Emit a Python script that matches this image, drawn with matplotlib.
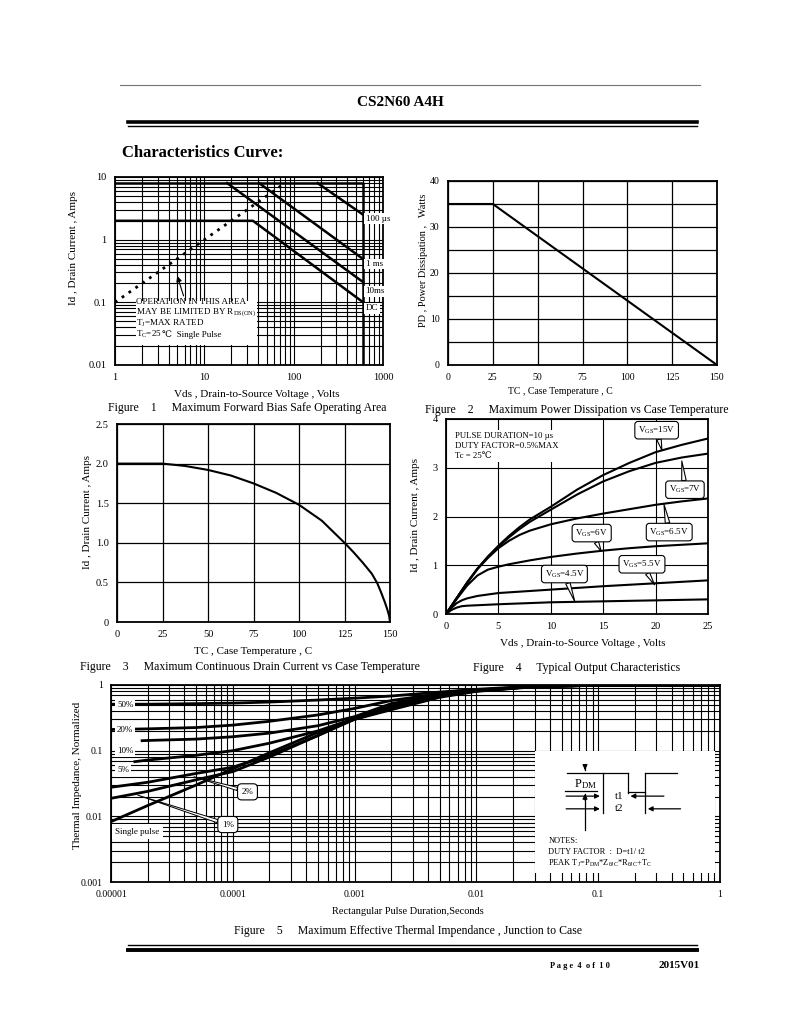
"""
CS2N60 A4H datasheet page 4 - characteristics curves
"""
import matplotlib
matplotlib.use("Agg")
import matplotlib.pyplot as plt
from matplotlib.lines import Line2D
from matplotlib.patches import Rectangle
from matplotlib.ticker import LogLocator, NullFormatter, MultipleLocator

plt.rcParams["font.family"] = ["Liberation Serif", "DejaVu Serif", "DejaVu Sans"]
plt.rcParams["mathtext.fontset"] = "custom"
plt.rcParams["mathtext.rm"] = "Liberation Serif"
plt.rcParams["mathtext.it"] = "Liberation Serif:italic"

W, H = 800, 1035

# ---------------- data ----------------
# Figure 1: safe operating area
soa_dc_v = [1, 35, 600]
soa_dc_i = [2.0, 2.0, 0.1]
soa_10ms_v = [18, 600]
soa_10ms_i = [8, 0.21]
soa_1ms_v = [41, 600]
soa_1ms_i = [8, 0.49]
soa_100us_v = [185, 600]
soa_100us_i = [8, 2.5]
soa_box_v = [1, 600, 600]
soa_box_i = [8, 8, 0.01]
rds_v = [1, 80]
rds_i = [0.1, 8]

# Figure 2: power dissipation
pd_tc = [0, 25, 150]
pd_w = [35, 35, 0]

# Figure 3: continuous drain current
id_tc = [0, 25, 37.5, 50, 62.5, 75, 87.5, 100, 112.5, 125, 130, 135, 140, 143, 145, 147, 148.5, 149.5, 150]
id_a = [2.0, 2.0, 1.97, 1.92, 1.85, 1.75, 1.63, 1.48, 1.28, 1.0, 0.88, 0.75, 0.61, 0.49, 0.38, 0.26, 0.16, 0.08, 0.0]

# Figure 4: output characteristics
vds = [0, 1, 2, 3, 4, 5, 6, 7, 8, 10, 12.5, 15, 17.5, 20, 22.5, 25]
id_15v = [0, 0.32, 0.64, 0.93, 1.18, 1.40, 1.60, 1.78, 1.94, 2.20, 2.55, 2.85, 3.10, 3.32, 3.47, 3.60]
id_7v = [0, 0.32, 0.64, 0.93, 1.17, 1.38, 1.57, 1.74, 1.89, 2.14, 2.45, 2.72, 2.93, 3.10, 3.21, 3.29]
id_65v = [0, 0.32, 0.63, 0.92, 1.15, 1.35, 1.50, 1.62, 1.71, 1.84, 1.96, 2.06, 2.15, 2.24, 2.31, 2.37]
id_6v = [0, 0.30, 0.58, 0.79, 0.91, 0.97, 1.02, 1.06, 1.10, 1.17, 1.24, 1.30, 1.35, 1.39, 1.42, 1.45]
vds_low = [0, 0.5, 1, 1.5, 2, 3, 5, 10, 15, 20, 25]
id_55v = [0, 0.12, 0.22, 0.28, 0.32, 0.37, 0.43, 0.50, 0.57, 0.63, 0.69]
id_45v = [0, 0.08, 0.13, 0.16, 0.17, 0.18, 0.20, 0.24, 0.26, 0.28, 0.30]
vgs_labels = ["15V", "7V", "6.5V", "6V", "5.5V", "4.5V"]
vgs_text_xy = [(20.1, 3.77), (22.8, 2.55), (21.3, 1.68), (13.9, 1.66), (18.7, 1.02), (11.3, 0.82)]
vgs_tip_xy = [(20.6, 3.36), (22.5, 3.14), (20.8, 2.25), (14.8, 1.29), (19.9, 0.60), (12.3, 0.25)]

# Figure 5: transient thermal impedance
zth_t = [1e-5, 2e-5, 5e-5, 1e-4, 2e-4, 5e-4, 1e-3, 2e-3, 5e-3, 1e-2, 3e-2, 1e-1, 3e-1, 1]
zth_50 = [0.51, 0.51, 0.52, 0.53, 0.55, 0.59, 0.63, 0.68, 0.78, 0.86, 0.96, 0.99, 1.0, 0.99]
zth_20 = [0.21, 0.215, 0.225, 0.245, 0.28, 0.35, 0.44, 0.58, 0.74, 0.84, 0.95, 0.99, 1.0, 0.99]
zth_10 = [0.142, 0.143, 0.15, 0.163, 0.185, 0.24, 0.33, 0.52, 0.72, 0.83, 0.95, 0.99, 1.0, 0.99]
zth_05 = [0.068, 0.072, 0.085, 0.10, 0.13, 0.20, 0.31, 0.48, 0.70, 0.82, 0.95, 0.99, 1.0, 0.99]
zth_02 = [0.0277, 0.033, 0.045, 0.056, 0.085, 0.17, 0.31, 0.45, 0.68, 0.81, 0.95, 0.99, 1.0, 0.99]
zth_01 = [0.0188, 0.024, 0.036, 0.048, 0.08, 0.17, 0.30, 0.44, 0.67, 0.81, 0.95, 0.99, 1.0, 0.99]
zth_sp = [0.0083, 0.0146, 0.030, 0.053, 0.093, 0.19, 0.30, 0.42, 0.65, 0.80, 0.94, 0.99, 1.0, 0.99]
zth_start_10 = 1.8e-5
zth_start_05 = 1.57e-5

fig = plt.figure(figsize=(8, 10.35), dpi=100)


def px_axes(left, top, right, bottom, **kw):
    """axes placed by page pixel box"""
    return fig.add_axes([left / W, 1 - bottom / H, (right - left) / W, (bottom - top) / H], **kw)


def ftext(x, y, s, **kw):
    fig.text(x / W, 1 - y / H, s, **kw)


def hline(x0, x1, y, lw, color="black"):
    fig.add_artist(Line2D([x0 / W, x1 / W], [1 - y / H] * 2, lw=lw, color=color,
                          transform=fig.transFigure))


def style_axes(ax, size=7.5):
    ax.tick_params(which="both", length=0, pad=6, labelsize=size)
    for s in ax.spines.values():
        s.set_linewidth(1.3)
    ax.set_axisbelow(True)


# ---------------- page header / footer ----------------
hline(120, 700, 85, 0.8, "0.45")
ftext(400, 102, "CS2N60 A4H", ha="center", va="center", fontsize=11, fontweight="bold")
hline(128, 697, 121.5, 2.6)
hline(128, 697, 126, 1.0)
ftext(122, 153, "Characteristics Curve:", ha="left", va="center", fontsize=12, fontweight="bold")
hline(128, 697, 945, 1.0)
hline(128, 697, 950, 2.8)
ftext(610, 966, "P a g e  4  o f  1 0", ha="right", va="center", fontsize=6, fontweight="bold")
ftext(700, 966, "2015V01", ha="right", va="center", fontsize=8, fontweight="bold")

# ---------------- Figure 1 ----------------
ax1 = px_axes(115, 177, 383, 365)
ax1.set_xscale("log")
ax1.set_yscale("log")
ax1.set_xlim(1, 1000)
ax1.set_ylim(0.01, 10)
ax1.xaxis.set_minor_locator(LogLocator(subs=range(2, 10)))
ax1.yaxis.set_minor_locator(LogLocator(subs=range(2, 10)))
ax1.xaxis.set_minor_formatter(NullFormatter())
ax1.yaxis.set_minor_formatter(NullFormatter())
ax1.set_xticks([1, 10, 100, 1000], ["1", "10", "100", "1000"])
ax1.set_yticks([0.01, 0.1, 1, 10], ["0.01", "0.1", "1", "10"])
ax1.grid(True, which="both", color="black", lw=0.8)
style_axes(ax1)
ax1.add_patch(Rectangle((1.7, 0.021), 37.3, 0.084, fc="white", ec="none", zorder=2))
for v, i in [(soa_dc_v, soa_dc_i), (soa_10ms_v, soa_10ms_i), (soa_1ms_v, soa_1ms_i),
             (soa_100us_v, soa_100us_i), (soa_box_v, soa_box_i)]:
    ax1.plot(v, i, color="black", lw=1.8, zorder=3)
ax1.plot(rds_v, rds_i, color="black", lw=2.0, ls=(0, (1, 2)), zorder=3)
for lab, y in [("100 µs", 2.15), ("1 ms", 0.41), ("10ms", 0.15), ("DC", 0.08)]:
    ax1.text(640, y, lab, fontsize=6.5, va="center", ha="left", zorder=4,
             bbox=dict(fc="white", ec="none", pad=1.0))
note_lines = ["OPERATION IN THIS AREA", r"MAY BE LIMITED BY R$_{\mathrm{DS(ON)}}$",
              r"T$_{\mathrm{J}}$=MAX RATED", r"T$_{\mathrm{C}}$=25"]
for txt, y in zip(note_lines, [0.100, 0.068, 0.046, 0.031]):
    last = ax1.text(1.74, y, txt, fontsize=6.5, va="center", ha="left", zorder=4)
# the degree sign is not in the mathtext font, so it follows as plain text
ax1.annotate("\u2103  Single Pulse", xy=(1, 0.5), xycoords=last, fontsize=6.5,
             va="center", ha="left", zorder=4)
ax1.annotate("", xy=(4.88, 0.29), xytext=(5.98, 0.115),
             arrowprops=dict(arrowstyle="-|>", color="black", lw=0.8, mutation_scale=8), zorder=4)
ftext(257, 395, "Vds , Drain-to-Source Voltage , Volts", ha="center", va="center", fontsize=8)
ftext(74, 248, "Id , Drain Current , Amps", ha="center", va="center", rotation=90, fontsize=8)
ftext(108, 408, "Figure    1     Maximum Forward Bias Safe Operating Area", ha="left", va="center", fontsize=8.5)

# ---------------- Figure 2 ----------------
ax2 = px_axes(448, 181, 717, 365)
ax2.set_xlim(0, 150)
ax2.set_ylim(0, 40)
ax2.set_xticks([0, 25, 50, 75, 100, 125, 150])
ax2.set_yticks([0, 10, 20, 30, 40])
ax2.yaxis.set_minor_locator(MultipleLocator(5))
ax2.grid(True, which="both", color="black", lw=0.9)
style_axes(ax2, 7)
ax2.plot(pd_tc, pd_w, color="black", lw=1.5, zorder=3)
ftext(560, 391, "TC , Case Temperature , C", ha="center", va="center", fontsize=7)
ftext(423, 260, "PD , Power Dissipation ,   Watts", ha="center", va="center", rotation=90, fontsize=7.5)
ftext(425, 410, "Figure    2     Maximum Power Dissipation vs Case Temperature", ha="left", va="center", fontsize=8.5)

# ---------------- Figure 3 ----------------
ax3 = px_axes(117, 424, 390, 622)
ax3.set_xlim(0, 150)
ax3.set_ylim(0, 2.5)
ax3.set_xticks([0, 25, 50, 75, 100, 125, 150])
ax3.set_yticks([0, 0.5, 1.0, 1.5, 2.0, 2.5], ["0", "0.5", "1.0", "1.5", "2.0", "2.5"])
ax3.grid(True, color="black", lw=0.9)
style_axes(ax3)
ax3.plot(id_tc, id_a, color="black", lw=1.5, zorder=3)
ftext(253, 652, "TC , Case Temperature , C", ha="center", va="center", fontsize=8)
ftext(88, 512, "Id , Drain Current , Amps", ha="center", va="center", rotation=90, fontsize=8)
ftext(80, 667, "Figure    3     Maximum Continuous Drain Current vs Case Temperature", ha="left", va="center", fontsize=8.5)

# ---------------- Figure 4 ----------------
ax4 = px_axes(446, 419, 708, 614)
ax4.set_xlim(0, 25)
ax4.set_ylim(0, 4)
ax4.set_xticks([0, 5, 10, 15, 20, 25])
ax4.set_yticks([0, 1, 2, 3, 4])
ax4.grid(True, color="black", lw=0.8)
style_axes(ax4)
for ys in [id_15v, id_7v, id_65v, id_6v]:
    ax4.plot(vds, ys, color="black", lw=1.5, zorder=3)
for ys in [id_55v, id_45v]:
    ax4.plot(vds_low, ys, color="black", lw=1.5, zorder=3)
for lab, txy, pxy in zip(vgs_labels, vgs_text_xy, vgs_tip_xy):
    ax4.annotate(r"V$_{\mathrm{GS}}$=" + lab, xy=pxy, xytext=txy, fontsize=6.5,
                 ha="center", va="center", zorder=5,
                 bbox=dict(boxstyle="round,pad=0.35", fc="white", ec="black", lw=0.8),
                 arrowprops=dict(arrowstyle="wedge,tail_width=0.5", fc="white", ec="black",
                                 lw=0.8, shrinkA=0, shrinkB=0))
ax4.text(0.86, 3.73, "PULSE DURATION=10 µs\nDUTY FACTOR=0.5%MAX\nTc = 25\u2103", fontsize=6.3,
         ha="left", va="top", linespacing=1.35, zorder=4,
         bbox=dict(fc="white", ec="none", pad=1.5))
ftext(583, 643, "Vds , Drain-to-Source Voltage , Volts", ha="center", va="center", fontsize=8)
ftext(415, 515, "Id , Drain Current , Amps", ha="center", va="center", rotation=90, fontsize=8)
ftext(577, 668, "Figure    4     Typical Output Characteristics", ha="center", va="center", fontsize=8.5)

# ---------------- Figure 5 ----------------
ax5 = px_axes(111, 685, 720, 882)
ax5.set_xscale("log")
ax5.set_yscale("log")
ax5.set_xlim(1e-5, 1)
ax5.set_ylim(0.001, 1)
ax5.xaxis.set_minor_locator(LogLocator(subs=range(2, 10)))
ax5.yaxis.set_minor_locator(LogLocator(subs=range(2, 10)))
ax5.xaxis.set_minor_formatter(NullFormatter())
ax5.yaxis.set_minor_formatter(NullFormatter())
ax5.set_xticks([1e-5, 1e-4, 1e-3, 1e-2, 1e-1, 1], ["0.00001", "0.0001", "0.001", "0.01", "0.1", "1"])
ax5.set_yticks([0.001, 0.01, 0.1, 1], ["0.001", "0.01", "0.1", "1"])
ax5.grid(True, which="both", color="black", lw=0.8)
style_axes(ax5, 7)
ax5.plot(zth_t, zth_50, color="black", lw=2.0, zorder=3)
ax5.plot(zth_t, zth_20, color="black", lw=2.0, zorder=3)
ax5.plot([zth_start_10] + zth_t[1:], zth_10, color="black", lw=2.0, zorder=3)
ax5.plot([zth_start_05] + zth_t[1:], zth_05, color="black", lw=2.0, zorder=3)
ax5.plot(zth_t, zth_02, color="black", lw=2.0, zorder=3)
ax5.plot(zth_t, zth_01, color="black", lw=2.0, zorder=3)
ax5.plot(zth_t, zth_sp, color="black", lw=2.0, zorder=3)
for lab, y in [("50%", 0.5), ("20%", 0.206), ("10%", 0.10), ("5%", 0.05)]:
    ax5.text(1.12e-5, y, lab, fontsize=6.5, ha="left", va="center", zorder=4,
             bbox=dict(fc="white", ec="none", pad=1.5))
ax5.text(1.08e-5, 0.0058, "Single pulse", fontsize=6.5, ha="left", va="center", zorder=4,
         bbox=dict(fc="white", ec="none", pad=2.5))
for lab, txy, pxy in [("2%", (1.32e-4, 0.0236), (4.8e-5, 0.040)), ("1%", (9.1e-5, 0.0075), (1.66e-5, 0.021))]:
    ax5.annotate(lab, xy=pxy, xytext=txy, fontsize=6.5, ha="center", va="center", zorder=5,
                 bbox=dict(boxstyle="round,pad=0.45", fc="white", ec="black", lw=0.8),
                 arrowprops=dict(arrowstyle="wedge,tail_width=0.35", fc="white", ec="black",
                                 lw=0.7, shrinkA=0, shrinkB=0))
ftext(408, 912, "Rectangular Pulse Duration,Seconds", ha="center", va="center", fontsize=7.5)
ftext(77, 775, "Thermal Impedance, Normalized", ha="center", va="center", rotation=90, fontsize=8)
ftext(408, 931, "Figure    5     Maximum Effective Thermal Impendance , Junction to Case", ha="center", va="center", fontsize=8.5)

# inset with pulse diagram and notes (local coords in a 540x365 box)
axi = px_axes(535, 751, 715, 873)
axi.set_zorder(ax5.get_zorder() + 1)
axi.set_xlim(15, 555)
axi.set_ylim(385, 20)
axi.axis("off")
axi.add_patch(Rectangle((15, 20), 540, 365, fc="white", ec="none", zorder=0))
wave = [([110, 293], [85, 85]), ([218, 218], [85, 205]), ([293, 293], [85, 145]),
        ([293, 345], [142, 142]), ([345, 345], [85, 205]), ([345, 440], [85, 85]),
        ([105, 200], [140, 140]), ([165, 165], [150, 255]), ([165, 165], [60, 78])]
for xs, ys in wave:
    axi.plot(xs, ys, color="black", lw=0.9)
arrow_kw = dict(arrowstyle="-|>", color="black", lw=0.9, mutation_scale=7)
axi.annotate("", xy=(165, 85), xytext=(165, 62), arrowprops=arrow_kw)
axi.annotate("", xy=(165, 140), xytext=(165, 175), arrowprops=arrow_kw)
axi.annotate("", xy=(218, 155), xytext=(100, 155), arrowprops=arrow_kw)
axi.annotate("", xy=(293, 155), xytext=(410, 155), arrowprops=arrow_kw)
axi.annotate("", xy=(218, 193), xytext=(100, 193), arrowprops=arrow_kw)
axi.annotate("", xy=(345, 193), xytext=(460, 193), arrowprops=arrow_kw)
axi.text(165, 118, r"P$_{\mathrm{DM}}$", fontsize=9, ha="center", va="center")
axi.text(268, 155, "t1", fontsize=8, ha="center", va="center")
axi.text(268, 193, "t2", fontsize=8, ha="center", va="center")
axi.text(55, 290, "NOTES:", fontsize=6, ha="left", va="center")
axi.text(55, 323, "DUTY FACTOR  :  D=t1/ t2", fontsize=6, ha="left", va="center")
axi.text(55, 355, r"PEAK T$_{\mathrm{J}}$=P$_{\mathrm{DM}}$*Z$_{\mathrm{\theta JC}}$*R$_{\mathrm{\theta JC}}$+T$_{\mathrm{C}}$",
         fontsize=6, ha="left", va="center")

fig.savefig("out.png", dpi=100)
